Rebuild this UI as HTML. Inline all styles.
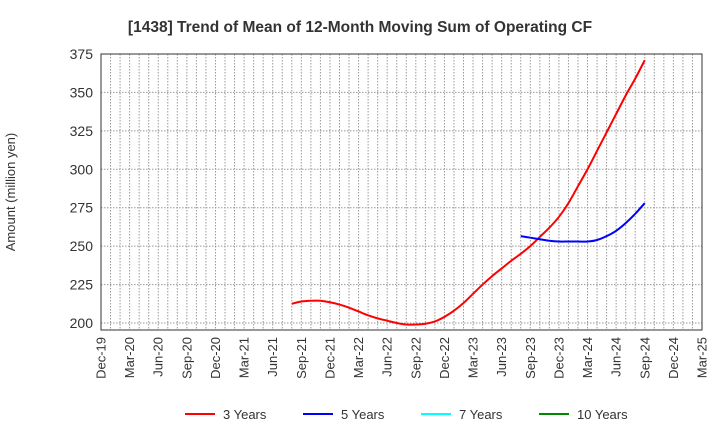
<!DOCTYPE html>
<html><head><meta charset="utf-8"><style>
body{margin:0;background:#fff;font-family:"Liberation Sans",sans-serif}
</style></head><body>
<svg id="chart" width="720" height="440" xmlns="http://www.w3.org/2000/svg" font-family="Liberation Sans, sans-serif">
<text x="360" y="32" text-anchor="middle" font-size="15.5" font-weight="bold" fill="#333">[1438]  Trend of Mean of 12-Month Moving Sum of Operating CF</text>
<text transform="translate(15,192) rotate(-90)" text-anchor="middle" font-size="13" fill="#333">Amount (million yen)</text>
<g id="grid"></g><g id="series"></g><g id="axes"></g>
<g font-size="13" fill="#333">
<line x1="185" y1="414" x2="215" y2="414" stroke="#f00" stroke-width="2"/><text x="223" y="419">3 Years</text>
<line x1="303" y1="414" x2="333" y2="414" stroke="#00f" stroke-width="2"/><text x="341" y="419">5 Years</text>
<line x1="421" y1="414" x2="451" y2="414" stroke="#0ff" stroke-width="2"/><text x="459" y="419">7 Years</text>
<line x1="539" y1="414" x2="569" y2="414" stroke="#080" stroke-width="2"/><text x="577" y="419">10 Years</text>
</g>
</svg>
<script>
const xLabels=["Dec-19","Mar-20","Jun-20","Sep-20","Dec-20","Mar-21","Jun-21","Sep-21","Dec-21","Mar-22","Jun-22","Sep-22","Dec-22","Mar-23","Jun-23","Sep-23","Dec-23","Mar-24","Jun-24","Sep-24","Dec-24","Mar-25"];
const yTicks=[200,225,250,275,300,325,350,375];
const red3Start=20; // months after Dec-19 (Aug-21)
const red3=[212.5,214,214.5,214.5,213.5,212,210,207.5,205,203,201.5,200,199,199,199.5,201,204,208,213,219,225,230.5,235.5,240.5,245,250,256,262,269,278,289,300,312,324,336,348,359,371];
const blue5Start=44; // Aug-23
const blue5=[256.5,255.5,254.5,253.5,253,253,253,253,254,256.5,260,265,271,278];
const L=101,R=702,T=54,B=330;
const xm=m=>L+m*(R-L)/63;
const y=v=>323-(v-200)*(323-54)/175;
const ns="http://www.w3.org/2000/svg";
function mk(t,a,p){const e=document.createElementNS(ns,t);for(const k in a)e.setAttribute(k,a[k]);p.appendChild(e);return e;}
const g=document.getElementById('grid'),ax=document.getElementById('axes'),s=document.getElementById('series');
for(let m=1;m<63;m++){const l=mk('line',{x1:xm(m),x2:xm(m),y1:T,y2:B,stroke:'#999','stroke-dasharray':'1.5,1.5','stroke-width':1},g);

}
yTicks.forEach(v=>{const l=mk('line',{x1:L,x2:R,y1:y(v),y2:y(v),stroke:'#999','stroke-dasharray':'1.5,1.5'},g);


const t=mk('text',{x:L-8,y:y(v)+5,'text-anchor':'end','font-size':14,fill:'#333'},ax);t.textContent=v;

});
xLabels.forEach((lb,i)=>{const x=xm(i*3);const t=mk('text',{transform:`translate(${x+4.5},${B+7}) rotate(-90)`,'text-anchor':'end','font-size':13,fill:'#333'},ax);t.textContent=lb;

});
const fr=mk('rect',{x:L,y:T,width:R-L,height:B-T,fill:'none',stroke:'#333','stroke-width':1},ax);


function path(arr,st){const p=arr.map((v,i)=>[xm(st+i),y(v)]);let d='M'+p[0];
for(let i=0;i<p.length-1;i++){const p0=p[i-1]||p[i],p1=p[i],p2=p[i+1],p3=p[i+2]||p2;
d+=` C${p1[0]+(p2[0]-p0[0])/6},${p1[1]+(p2[1]-p0[1])/6} ${p2[0]-(p3[0]-p1[0])/6},${p2[1]-(p3[1]-p1[1])/6} ${p2[0]},${p2[1]}`;}return d;}
const r=mk('path',{d:path(red3,red3Start),fill:'none',stroke:'#f00','stroke-width':2},s);


const b=mk('path',{d:path(blue5,blue5Start),fill:'none',stroke:'#00f','stroke-width':2},s);


</script>
</body></html>
